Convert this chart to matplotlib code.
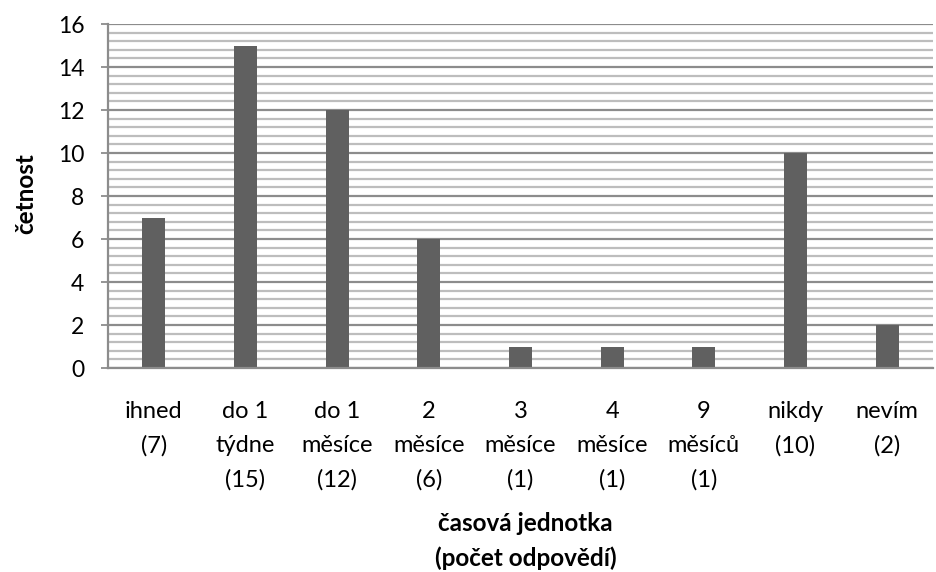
import matplotlib
matplotlib.use("Agg")
import matplotlib.pyplot as plt
from matplotlib.ticker import MultipleLocator

categories = ["ihned\n(7)", "do 1\ntýdne\n(15)", "do 1\nměsíce\n(12)", "2\nměsíce\n(6)",
              "3\nměsíce\n(1)", "4\nměsíce\n(1)", "9\nměsíců\n(1)", "nikdy\n(10)", "nevím\n(2)"]
values = [7, 15, 12, 6, 1, 1, 1, 10, 2]
y_label = "četnost"
x_label = "časová jednotka\n(počet odpovědí)"

plt.rcParams['font.family'] = ['Lato', 'DejaVu Sans']

fig = plt.figure(figsize=(9.37, 5.72), dpi=100)
ax = fig.add_axes([0.1153, 0.3566, 0.8805, 0.6014])

x = list(range(len(categories)))
ax.bar(x, values, width=0.25, color="#606060", zorder=3)

ax.set_xlim(-0.5, len(categories) - 0.5)
ax.set_ylim(0, 16)
ax.yaxis.set_major_locator(MultipleLocator(2))
ax.yaxis.set_minor_locator(MultipleLocator(0.4))
ax.grid(axis="y", which="minor", color="#bdbdbd", linewidth=1.6, zorder=0)
ax.grid(axis="y", which="major", color="#8c8c8c", linewidth=1.6, zorder=1)
ax.tick_params(axis="y", which="minor", length=0)
ax.tick_params(axis="y", which="major", length=5, width=1.3, color="#8c8c8c",
               labelsize=16.5, pad=12)
ax.set_xticks(x)
ax.set_xticklabels(categories, fontsize=17, linespacing=1.75)
ax.tick_params(axis="x", length=0, pad=24)

for s in ["top", "right"]:
    ax.spines[s].set_visible(False)
for s in ["left", "bottom"]:
    ax.spines[s].set_color("#8c8c8c")
    ax.spines[s].set_linewidth(1.6)
    ax.spines[s].set_zorder(4)

fig.text(0.028, 0.6617, y_label, rotation=90, ha="center", va="center",
         fontsize=17.5, fontweight="bold")
fig.text(0.561, 0.004, x_label, ha="center", va="bottom", fontsize=17.5,
         fontweight="bold", linespacing=1.55)

fig.savefig("out.png", dpi=100)
